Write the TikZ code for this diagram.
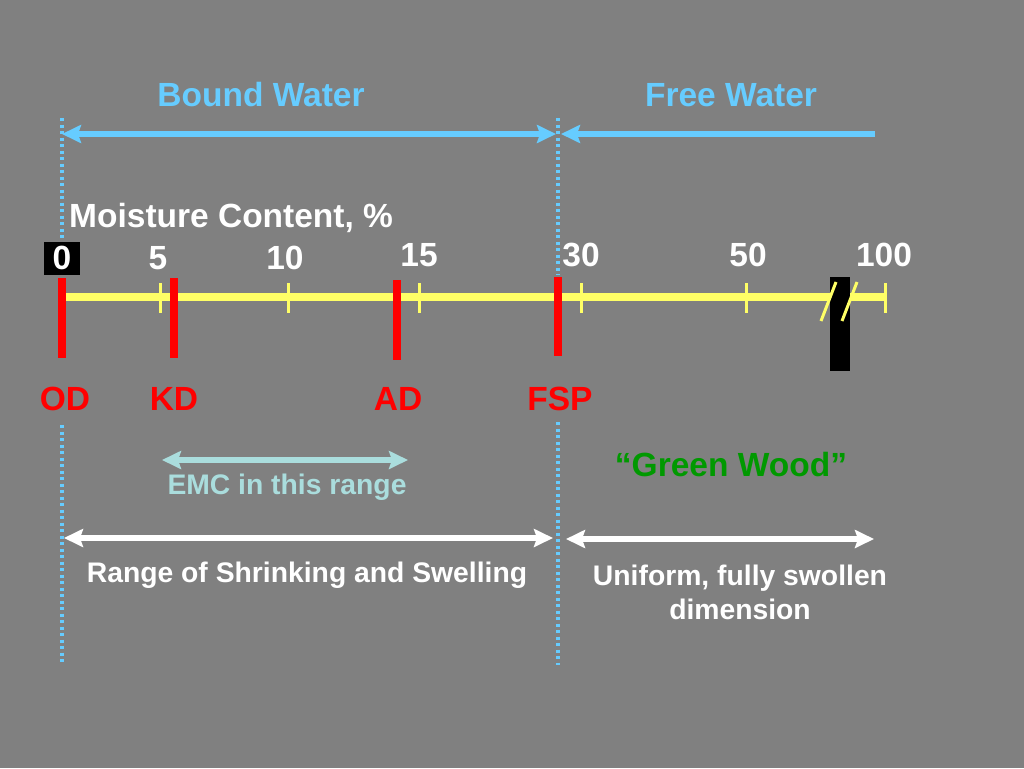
\documentclass[tikz,border=0pt]{standalone}
\usepackage{fontspec}
\setmainfont{Liberation Sans}
\usepackage{xcolor}
\usepackage{tikz}
\usetikzlibrary{positioning,arrows.meta}
\definecolor{bggray}{RGB}{128,128,128}
\definecolor{waterblue}{RGB}{102,204,255}
\definecolor{axisyellow}{RGB}{255,255,102}
\definecolor{emcteal}{RGB}{170,221,221}
\definecolor{woodgreen}{RGB}{0,153,0}
\tikzset{big/.style={font=\fontsize{33.5}{38}\selectfont\bfseries,inner sep=0pt}}
\tikzset{small/.style={font=\fontsize{28.3}{34}\selectfont\bfseries,inner sep=0pt,align=center}}
\tikzset{limit/.style={draw=waterblue,line width=3.5pt,dash pattern=on 3pt off 3.5pt}}
\tikzset{tip/.tip={Stealth[length=19pt,width=18pt,inset=3pt]}}
\tikzset{span/.style={line width=5.5pt,tip-tip}}
\tikzset{tickmark/.style={draw=axisyellow,line width=3pt}}
\tikzset{statebar/.style={draw=red,line width=8pt}}
\tikzset{statename/.style={big,text=red}}

\begin{document}
\begin{tikzpicture}[x=1pt,y=-1pt]
		\fill[bggray] (0,0) rectangle (1024,768);
		\useasboundingbox (0,0) rectangle (1024,768);
		% fibre saturation limits
		\coordinate (top0) at (62,118);
		\coordinate (topF) at (558,118);
		\coordinate (bot0) at (62,665);
		\coordinate (botF) at (558,665);
		\draw[limit] (top0) -- (62,242);
		\draw[limit] (62,425) -- (bot0);
		\draw[limit] (topF) -- (558,275);
		\draw[limit] (558,422) -- (botF);
		% water arrows
		\node[big,text=waterblue] (bound) at (261,95) {Bound Water};
		\node[big,text=waterblue] (free) at (731,95) {Free Water};
		\coordinate (bl) at (62,134);
		\coordinate (br) at (556,134);
		\coordinate (fl) at (561,134);
		\coordinate (fr) at (875,134);
		\draw[span,draw=waterblue,fill=waterblue] (bl) -- (br);
		\draw[span,draw=waterblue,fill=waterblue,tip-] (fl) -- (fr);
		% scale
		\node[big,text=white,anchor=west] (mc) at (69,218) {Moisture Content, \%};
		\coordinate (a0) at (62,297);
		\coordinate (a1) at (885,297);
		\draw[axisyellow,line width=8pt] (a0) -- (a1);
		\foreach \x/\lx/\ly/\v in {160/158/258/5,288/285/258/10,419/419/255/15,581/581/255/30,746/748/255/50,885/884/255/100}{
			\draw[tickmark] (\x,283) -- (\x,313);
			\node[big,text=white] (n\v) at (\lx,\ly) {\v};
		}
		\node[big,text=white,fill=black,minimum width=36pt,minimum height=33pt] (n0) at (62,258) {0};
		% states
		\foreach \x/\ya/\yb/\s in {62/278/358/od,174/278/358/kd,397/280/360/ad,558/277/356/fsp}{
			\draw[statebar] (\x,\ya) -- (\x,\yb);
		}
		\node[statename] (od) at (65,399) {OD};
		\node[statename] (kd) at (174,399) {KD};
		\node[statename] (ad) at (398,399) {AD};
		\node[statename] (fsp) at (560,399) {FSP};
		% axis break
		\fill[black] (830,277) rectangle (850,371);
		\draw[axisyellow,line width=3pt] (821,321) -- (836,282);
		\draw[axisyellow,line width=3pt] (842,321) -- (857,282);
		% ranges
		\coordinate (el) at (162,460);
		\coordinate (er) at (408,460);
		\draw[span,draw=emcteal,fill=emcteal] (el) -- (er);
		\node[small,text=emcteal] (emc) at (287,487) {EMC in this range};
		\node[big,text=woodgreen] (green) at (731,465) {“Green Wood”};
		\coordinate (sl) at (64,538);
		\coordinate (sr) at (553,538);
		\coordinate (ul) at (566,539);
		\coordinate (ur) at (874,539);
		\draw[span,draw=white,fill=white] (sl) -- (sr);
		\draw[span,draw=white,fill=white] (ul) -- (ur);
		\node[small,text=white] (shrink) at (307,575) {Range of Shrinking and Swelling};
		\node[small,text=white] (swollen) at (740,592.5) {Uniform, fully swollen\\dimension};
	\end{tikzpicture}
\end{document}
